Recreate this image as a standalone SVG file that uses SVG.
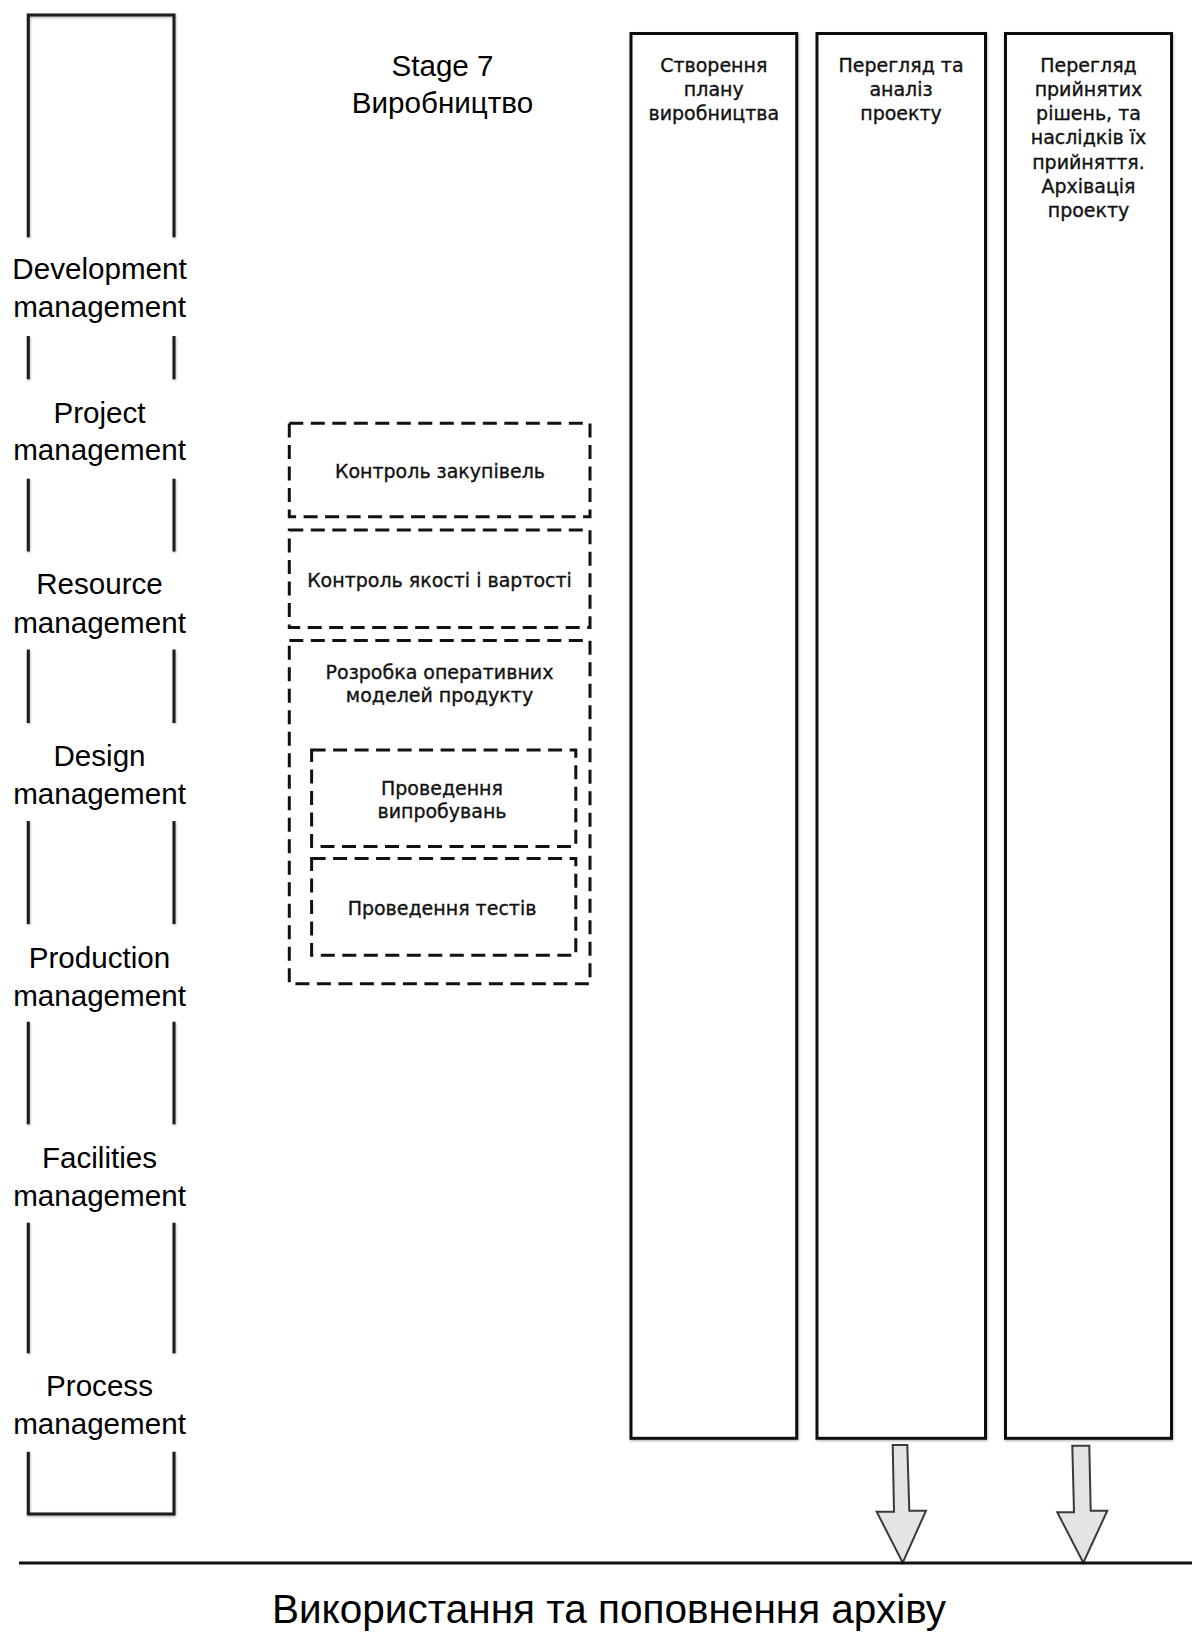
<svg xmlns="http://www.w3.org/2000/svg" width="1192" height="1649" viewBox="0 0 1192 1649">
  <defs>
    <filter id="soft" x="-5%" y="-5%" width="110%" height="110%">
      <feDropShadow dx="0.6" dy="1.2" stdDeviation="0.8" flood-color="#000" flood-opacity="0.3"/>
    </filter>
  </defs>
  <style>
    .big { font-family: "Liberation Sans", Arial, Helvetica, sans-serif; font-size: 29.6px; fill: #000; text-anchor: middle; }
    .small { font-family: "DejaVu Sans", Verdana, sans-serif; font-size: 19px; fill: #111; stroke: #111; stroke-width: 0.35; text-anchor: middle; }
    .frame { fill: none; stroke: #1a1a1a; stroke-width: 3; }
    .col { fill: #fff; stroke: #111; stroke-width: 3; }
    .dash { fill: none; stroke: #111; stroke-width: 3; stroke-dasharray: 14 7.5; }
    .arrow { fill: #e4e4e4; stroke: #3a3a3a; stroke-width: 2; stroke-linejoin: miter; }
    .base { stroke: #111; stroke-width: 3; }
    .footer { font-family: "Liberation Sans", Arial, Helvetica, sans-serif; font-size: 40.5px; fill: #000; text-anchor: middle; }
  </style>

  <rect width="1192" height="1649" fill="#fff"/>

  <!-- management frame: one open rectangle broken by the discipline labels -->
  <g id="management-frame">
    <path class="frame" filter="url(#soft)" d="M28.3,237.3 V15 H174 V237.3
      M28.3,336 V379.3 M174,336 V379.3
      M28.3,478.7 V551.4 M174,478.7 V551.4
      M28.3,649.6 V722.9 M174,649.6 V722.9
      M28.3,821 V924 M174,821 V924
      M28.3,1021.8 V1124.3 M174,1021.8 V1124.3
      M28.3,1222.7 V1353.3 M174,1222.7 V1353.3
      M28.3,1451.7 V1514 H174 V1451.7"/>
    <g id="lbl-development">
      <text class="big" x="99.5" y="279.3">Development</text>
      <text class="big" x="99.5" y="317.3">management</text>
    </g>
    <g id="lbl-project">
      <text class="big" x="99.5" y="422.7">Project</text>
      <text class="big" x="99.5" y="459.8">management</text>
    </g>
    <g id="lbl-resource">
      <text class="big" x="99.5" y="594.3">Resource</text>
      <text class="big" x="99.5" y="632.8">management</text>
    </g>
    <g id="lbl-design">
      <text class="big" x="99.5" y="765.7">Design</text>
      <text class="big" x="99.5" y="804.3">management</text>
    </g>
    <g id="lbl-production">
      <text class="big" x="99.5" y="967.5">Production</text>
      <text class="big" x="99.5" y="1005.5">management</text>
    </g>
    <g id="lbl-facilities">
      <text class="big" x="99.5" y="1167.7">Facilities</text>
      <text class="big" x="99.5" y="1205.7">management</text>
    </g>
    <g id="lbl-process">
      <text class="big" x="99.5" y="1396">Process</text>
      <text class="big" x="99.5" y="1434.3">management</text>
    </g>
  </g>

  <!-- stage heading -->
  <g id="stage-title">
    <text class="big" x="442.5" y="76">Stage 7</text>
    <text class="big" x="442.5" y="112.7">Виробництво</text>
  </g>

  <!-- dashed activity blocks -->
  <g id="procurement">
    <rect class="dash" x="289.3" y="423.3" width="300.7" height="93.4"/>
    <text class="small" x="440" y="478.3">Контроль закупівель</text>
  </g>
  <g id="quality-cost">
    <rect class="dash" x="289.3" y="530" width="300.7" height="97.5"/>
    <text class="small" x="439.5" y="586.7">Контроль якості і вартості</text>
  </g>
  <g id="operative-models">
    <rect class="dash" x="289.3" y="640.5" width="300.7" height="343.2"/>
    <text class="small" x="439.5" y="679.3">Розробка оперативних</text>
    <text class="small" x="439.5" y="701.7">моделей продукту</text>
  </g>
  <g id="trials">
    <rect class="dash" x="311.6" y="750" width="264.2" height="96.5"/>
    <text class="small" x="442" y="795">Проведення</text>
    <text class="small" x="442" y="817.7">випробувань</text>
  </g>
  <g id="tests">
    <rect class="dash" x="311.6" y="858.5" width="264.2" height="96.8"/>
    <text class="small" x="442" y="914.7">Проведення тестів</text>
  </g>

  <!-- phase columns -->
  <g id="production-plan">
    <rect class="col" filter="url(#soft)" x="631" y="33.5" width="165.7" height="1404.8"/>
    <text class="small" x="713.8" y="71.8">Створення</text>
    <text class="small" x="713.8" y="96">плану</text>
    <text class="small" x="713.8" y="120.2">виробництва</text>
  </g>
  <g id="project-review">
    <rect class="col" filter="url(#soft)" x="817" y="33.5" width="168.5" height="1404.8"/>
    <text class="small" x="901" y="71.8">Перегляд та</text>
    <text class="small" x="901" y="96">аналіз</text>
    <text class="small" x="901" y="120.2">проекту</text>
  </g>
  <g id="decisions-archive">
    <rect class="col" filter="url(#soft)" x="1005.5" y="33.5" width="166" height="1404.8"/>
    <text class="small" x="1088.5" y="71.8">Перегляд</text>
    <text class="small" x="1088.5" y="96">прийнятих</text>
    <text class="small" x="1088.5" y="120.2">рішень, та</text>
    <text class="small" x="1088.5" y="144.4">наслідків їх</text>
    <text class="small" x="1088.5" y="168.6">прийняття.</text>
    <text class="small" x="1088.5" y="192.8">Архівація</text>
    <text class="small" x="1088.5" y="217">проекту</text>
  </g>

  <!-- connectors: block arrows into the archive line -->
  <g id="connectors">
    <polygon class="arrow" points="892.7,1445 907.3,1445 909.3,1510.7 926,1510.7 902.7,1562.7 876.7,1511.7 894,1511.7"/>
    <polygon class="arrow" points="1072.3,1445.7 1089.3,1445.7 1090.7,1510.7 1107.3,1510.7 1083.3,1562.7 1057.3,1512.3 1074,1512.3"/>
  </g>

  <!-- archive baseline -->
  <g id="archive">
    <line class="base" x1="19" y1="1563" x2="1192" y2="1563"/>
    <text class="footer" x="609" y="1623.3">Використання та поповнення архіву</text>
  </g>
</svg>
